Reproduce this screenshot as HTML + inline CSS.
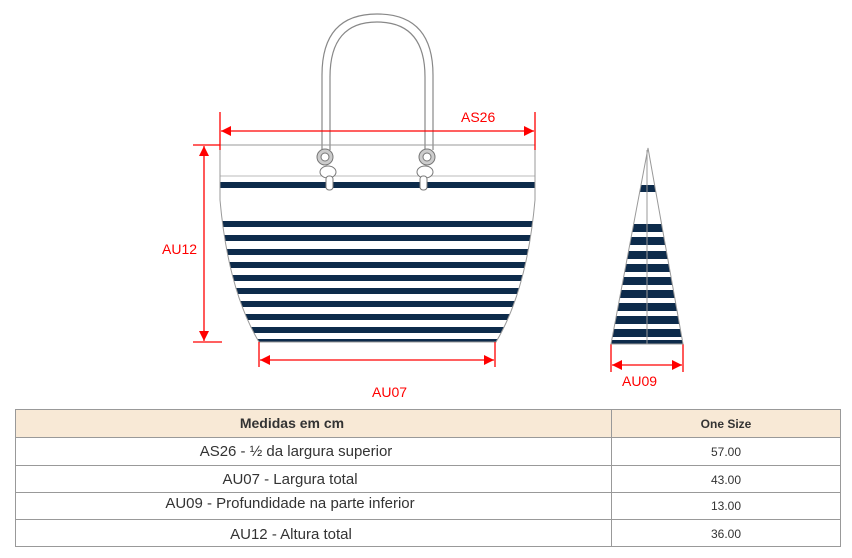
<!DOCTYPE html>
<html><head><meta charset="utf-8"><style>
html,body{margin:0;padding:0;background:#fff;width:852px;height:558px;overflow:hidden}
svg{position:absolute;left:0;top:0}
text{font-family:"Liberation Sans",sans-serif}
.t{font-family:"Liberation Sans Narrow","Liberation Sans",sans-serif;fill:#333}
</style></head><body>
<svg width="852" height="558" viewBox="0 0 852 558">
<defs>
<clipPath id="bag"><path d="M220,145 L220,200 Q228,290 259,342 L496,342 Q527,290 535,200 L535,145 Z"/></clipPath>
<clipPath id="side"><path d="M648,148 L611,344 L683,344 Z"/></clipPath>
<marker id="ar" viewBox="0 0 10 10" refX="10" refY="5" markerWidth="10" markerHeight="10" orient="auto-start-reverse" markerUnits="userSpaceOnUse"><path d="M0,0 L10,5 L0,10 Z" fill="#f00"/></marker>
</defs>
<path d="M322,150 L322,75 Q322,14 377,14 Q433,14 433,75 L433,150" fill="none" stroke="#888" stroke-width="1.2"/>
<path d="M330,150 L330,77 Q330,22 377,22 Q425,22 425,77 L425,150" fill="none" stroke="#888" stroke-width="1.2"/>
<g clip-path="url(#bag)">
<rect x="215" y="182" width="330" height="6" fill="#0d2b4b"/>
<g fill="#0d2b4b">
<rect x="215" y="221" width="330" height="6"/><rect x="215" y="235" width="330" height="6"/>
<rect x="215" y="249" width="330" height="6"/><rect x="215" y="262" width="330" height="6"/>
<rect x="215" y="275" width="330" height="6"/><rect x="215" y="288" width="330" height="6"/>
<rect x="215" y="301" width="330" height="6"/><rect x="215" y="314" width="330" height="6"/>
<rect x="215" y="327" width="330" height="6"/><rect x="215" y="339" width="330" height="4"/>
</g>
<line x1="215" y1="176" x2="540" y2="176" stroke="#bbb"/>
</g>
<path d="M220,145 L220,200 Q228,290 259,342 L496,342 Q527,290 535,200 L535,145 Z" fill="none" stroke="#999" stroke-width="1"/>
<g stroke="#777" fill="#fff">
<circle cx="325" cy="157" r="8" fill="#ccc"/><circle cx="325" cy="157" r="4"/>
<circle cx="427" cy="157" r="8" fill="#ccc"/><circle cx="427" cy="157" r="4"/>
<ellipse cx="328" cy="172" rx="8" ry="6"/><rect x="326" y="176" width="7" height="14" rx="3"/>
<ellipse cx="425" cy="172" rx="8" ry="6"/><rect x="420" y="176" width="7" height="14" rx="3"/>
</g>
<g stroke="#f00" stroke-width="1.3" fill="none">
<line x1="220" y1="112" x2="220" y2="150"/><line x1="535" y1="112" x2="535" y2="150"/>
<line x1="221" y1="131" x2="534" y2="131" marker-start="url(#ar)" marker-end="url(#ar)"/>
<line x1="193" y1="145" x2="220" y2="145"/><line x1="193" y1="342" x2="222" y2="342"/>
<line x1="204" y1="146" x2="204" y2="341" marker-start="url(#ar)" marker-end="url(#ar)"/>
<line x1="259" y1="342" x2="259" y2="367"/><line x1="495" y1="342" x2="495" y2="367"/>
<line x1="260" y1="360" x2="494" y2="360" marker-start="url(#ar)" marker-end="url(#ar)"/>
<line x1="611" y1="344" x2="611" y2="372"/><line x1="683" y1="344" x2="683" y2="372"/>
<line x1="612" y1="365" x2="682" y2="365" marker-start="url(#ar)" marker-end="url(#ar)"/>
</g>
<g fill="#f00" font-size="14">
<text x="461" y="122">AS26</text>
<text x="162" y="254">AU12</text>
<text x="372" y="397">AU07</text>
<text x="622" y="386">AU09</text>
</g>
<g clip-path="url(#side)" fill="#0d2b4b">
<rect x="600" y="185" width="100" height="7"/>
<rect x="600" y="224" width="100" height="8"/><rect x="600" y="237" width="100" height="8"/>
<rect x="600" y="251" width="100" height="8"/><rect x="600" y="264" width="100" height="8"/>
<rect x="600" y="277" width="100" height="8"/><rect x="600" y="290" width="100" height="8"/>
<rect x="600" y="303" width="100" height="8"/><rect x="600" y="316" width="100" height="8"/>
<rect x="600" y="329" width="100" height="8"/><rect x="600" y="340" width="100" height="5"/>
</g>
<path d="M648,148 L611,344 L683,344 Z" fill="none" stroke="#999"/>
<line x1="647" y1="150" x2="647" y2="344" stroke="#999"/>
<rect x="15" y="409" width="826" height="28" fill="#f8e9d6"/>
<g stroke="#999" stroke-width="1" fill="none">
<rect x="15.5" y="409.5" width="825" height="137"/>
<line x1="15" y1="437.5" x2="841" y2="437.5"/><line x1="15" y1="465.5" x2="841" y2="465.5"/>
<line x1="15" y1="492.5" x2="841" y2="492.5"/><line x1="15" y1="519.5" x2="841" y2="519.5"/>
<line x1="611.5" y1="409" x2="611.5" y2="547"/>
</g>
<g text-anchor="middle" class="t">
<text x="292" y="428" font-size="14" font-weight="bold" class="t">Medidas em cm</text>
<text x="726" y="428" font-size="12" font-weight="bold" class="t">One Size</text>
<text x="296" y="456" font-size="15" class="t">AS26 - ½ da largura superior</text>
<text x="290" y="484" font-size="15" class="t">AU07 - Largura total</text>
<text x="290" y="508" font-size="15" class="t">AU09 - Profundidade na parte inferior</text>
<text x="291" y="539" font-size="15" class="t">AU12 - Altura total</text>
<text x="726" y="456" font-size="12" class="t">57.00</text>
<text x="726" y="484" font-size="12" class="t">43.00</text>
<text x="726" y="510" font-size="12" class="t">13.00</text>
<text x="726" y="538" font-size="12" class="t">36.00</text>
</g>
</svg>
</body></html>
